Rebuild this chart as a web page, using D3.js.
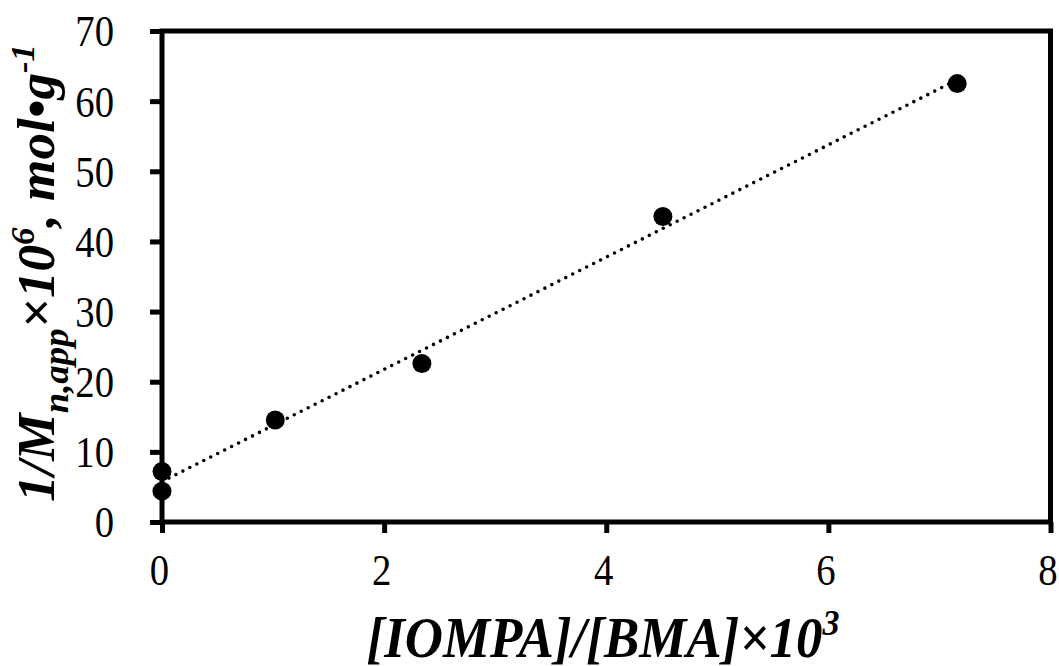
<!DOCTYPE html>
<html><head><meta charset="utf-8">
<script src="https://cdn.jsdelivr.net/npm/d3@7"></script>
<style>body{margin:0;background:#fff}</style>
</head><body><svg id="c" width="1059" height="666"></svg>
<script>
const ratioX = [0, 0, 1.02, 2.34, 4.51, 7.16];
const invMn = [7.2, 4.4, 14.55, 22.6, 43.55, 62.5];
const xTicks = [0, 2, 4, 6, 8];
const yTicks = [0, 10, 20, 30, 40, 50, 60, 70];

const svg = d3.select('#c');
const FONT = "'Liberation Serif'";
const x = d3.scaleLinear().domain([0, 8]).range([162, 1050.5]);
const y = d3.scaleLinear().domain([0, 70]).range([522, 31]);

// frame
svg.append('rect')
  .attr('x', x(0)).attr('y', y(70))
  .attr('width', x(8) - x(0)).attr('height', y(0) - y(70))
  .attr('fill', 'none').attr('stroke', '#000').attr('stroke-width', 5);

// axes
const yAx = svg.append('g').attr('transform', `translate(${x(0)},0)`)
  .call(d3.axisLeft(y).tickValues(yTicks).tickSize(12).tickFormat(d3.format('d')));
const xAx = svg.append('g').attr('transform', `translate(0,${y(0)})`)
  .call(d3.axisBottom(x).tickValues(xTicks).tickSize(11).tickFormat(d3.format('d')));
[yAx, xAx].forEach(g => {
  g.attr('font-family', FONT).attr('font-size', 44);
  g.select('.domain').remove();
  g.selectAll('.tick line').attr('stroke', '#000').attr('stroke-width', 5);
  g.selectAll('.tick text').attr('fill', '#000')
    .attr('font-family', FONT).attr('font-size', 44);
});
yAx.selectAll('.tick text').attr('x', null).attr('dy', '0.34em')
  .attr('text-anchor', 'end')
  .attr('transform', 'translate(-48,0) scale(0.88,1)');
xAx.selectAll('.tick text').attr('y', null).attr('dy', null)
  .attr('text-anchor', 'middle')
  .attr('transform', 'translate(-3,63) scale(0.88,1)');

// trendline (least squares)
const mx = d3.mean(ratioX), my = d3.mean(invMn);
const slope = d3.sum(ratioX.map((v, i) => (v - mx) * (invMn[i] - my))) /
              d3.sum(ratioX.map(v => (v - mx) ** 2));
const icpt = my - slope * mx;
const [xa, xb] = d3.extent(ratioX);
svg.append('line')
  .attr('x1', x(xa)).attr('y1', y(icpt + slope * xa))
  .attr('x2', x(xb)).attr('y2', y(icpt + slope * xb))
  .attr('stroke', '#000').attr('stroke-width', 3.6)
  .attr('stroke-linecap', 'round').attr('stroke-dasharray', '0 7.8');

// points
svg.append('g').selectAll('circle').data(ratioX).join('circle')
  .attr('cx', d => x(d)).attr('cy', (d, i) => y(invMn[i]))
  .attr('r', 9.5).attr('fill', '#000');

// x title
const xt = svg.append('text')
  .attr('x', 603).attr('y', 657).attr('text-anchor', 'middle')
  .attr('textLength', 473).attr('lengthAdjust', 'spacingAndGlyphs')
  .attr('font-family', FONT).attr('font-size', 56)
  .attr('font-weight', 'bold').attr('font-style', 'italic');
xt.append('tspan').text('[IOMPA]/[BMA]×10');
xt.append('tspan').attr('dy', -22).attr('font-size', 36).text('3');

// y title
const yt = svg.append('text')
  .attr('transform', 'translate(54,273) rotate(-90)')
  .attr('text-anchor', 'middle')
  .attr('textLength', 458).attr('lengthAdjust', 'spacingAndGlyphs')
  .attr('font-family', FONT).attr('font-size', 52)
  .attr('font-weight', 'bold').attr('font-style', 'italic');
yt.append('tspan').text('1/M');
yt.append('tspan').attr('dy', 14).attr('font-size', 36).text('n,app');
yt.append('tspan').attr('dy', -14).text('×10');
yt.append('tspan').attr('dy', -20).attr('font-size', 34).text('6');
yt.append('tspan').attr('dy', 20).text(', mol•g');
yt.append('tspan').attr('dy', -20).attr('font-size', 34).text('-1');
</script>
</body></html>
